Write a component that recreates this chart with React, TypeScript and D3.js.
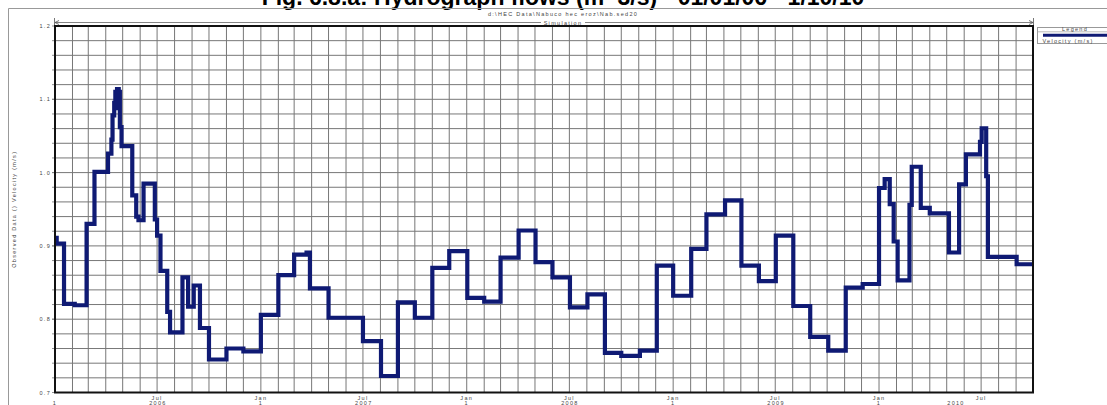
import React from "react";
import * as d3 from "d3";

// ---- data (step series: value holds from each date until the next) ----
const stepDates: string[] = [
  "2006-01-01", "2006-01-04", "2006-01-17", "2006-02-05", "2006-02-26", "2006-03-12",
  "2006-04-05", "2006-04-11", "2006-04-13", "2006-04-16", "2006-04-18", "2006-04-20",
  "2006-04-21", "2006-04-24", "2006-04-26", "2006-04-29", "2006-05-18", "2006-05-25",
  "2006-05-29", "2006-06-07", "2006-06-27", "2006-07-01", "2006-07-07", "2006-07-19",
  "2006-07-24", "2006-08-15", "2006-08-25", "2006-09-04", "2006-09-15", "2006-10-01",
  "2006-11-01", "2006-12-01", "2007-01-01", "2007-02-01", "2007-03-01", "2007-03-23",
  "2007-03-29", "2007-05-01", "2007-07-01", "2007-08-02", "2007-09-01", "2007-10-01",
  "2007-11-01", "2007-12-01", "2008-01-02", "2008-02-01", "2008-03-01", "2008-04-02",
  "2008-05-02", "2008-06-01", "2008-07-02", "2008-08-02", "2008-09-02", "2008-10-01",
  "2008-11-03", "2008-12-03", "2009-01-01", "2009-02-02", "2009-03-01", "2009-04-03",
  "2009-05-02", "2009-06-02", "2009-07-02", "2009-08-02", "2009-09-01", "2009-10-03",
  "2009-11-03", "2009-12-03", "2010-01-01", "2010-01-11", "2010-01-20", "2010-01-27",
  "2010-02-03", "2010-02-24", "2010-02-28", "2010-03-16", "2010-04-01", "2010-05-05",
  "2010-05-23", "2010-06-04", "2010-06-29", "2010-07-02", "2010-07-10", "2010-07-13",
  "2010-09-02", "2010-10-01",
];
const stepValues: number[] = [
  0.911, 0.903, 0.821, 0.819, 0.930, 1.001,
  1.026, 1.045, 1.078, 1.095, 1.110, 1.088,
  1.114, 1.110, 1.062, 1.036, 0.969, 0.940,
  0.935, 0.985, 0.936, 0.914, 0.866, 0.810,
  0.782, 0.857, 0.817, 0.846, 0.788, 0.745,
  0.760, 0.756, 0.806, 0.860, 0.888, 0.891,
  0.842, 0.802, 0.770, 0.7225, 0.823, 0.802,
  0.870, 0.893, 0.829, 0.824, 0.884, 0.921,
  0.878, 0.857, 0.816, 0.834, 0.754, 0.750,
  0.757, 0.873, 0.832, 0.896, 0.943, 0.962,
  0.873, 0.852, 0.914, 0.818, 0.776, 0.757,
  0.843, 0.848, 0.979, 0.991, 0.957, 0.906,
  0.853, 0.956, 1.008, 0.952, 0.9445, 0.891,
  0.984, 1.025, 1.042, 1.0605, 0.995, 0.885,
  0.875, 0.875,
];

const yTickValues: number[] = [0.7, 0.8, 0.9, 1.0, 1.1, 1.2];
const yTickLabels: string[] = ["0.7", "0.8", "0.9", "1.0", "1.1", "1.2"];
const titleText = "Fig. 6.8.a: Hydrograph flows (m^3/s) - 01/01/06 - 1/10/10";
const fileText = "d:\\HEC Data\\Nabuco hec  eroz\\Nab.sed20";
const groupText = "Simulation";
const yAxisTitle = "Observed Data () Velocity (m/s)";
const legendTitle = "Legend";
const seriesName = "Velocity (m/s)";
const domainStart = "2006-01-01";
const domainEnd = "2010-10-01";

const W = 1107;
const H = 405;
const L = 55;
const R = 1033;
const T = 26;
const B = 392.5;
const LINE = "#0f1a74";
const FONT = "'Liberation Sans', Arial, sans-serif";

const parse = (s: string) => new Date(s + "T00:00:00Z");

export default function App() {
  const x = d3.scaleUtc().domain([parse(domainStart), parse(domainEnd)]).range([L, R]);
  const y = d3.scaleLinear().domain([0.7, 1.2]).range([B, T]);

  const pts: [Date, number][] = stepDates.map((d, i) => [parse(d), stepValues[i]]);
  const line = d3
    .line<[Date, number]>()
    .x((d) => x(d[0]))
    .y((d) => y(d[1]))
    .curve(d3.curveStepAfter);

  const months = d3.utcMonth.range(parse(domainStart), parse(domainEnd));
  const hLines = d3.range(36).map((i) => +(0.7 + i * 0.02).toFixed(2)).filter((v) => v > 0.7 && v < 1.2);

  const jans = months.filter((m) => m.getUTCMonth() === 0);
  const juls = months.filter((m) => m.getUTCMonth() === 6);
  const years = d3.range(2006, 2011).map((yr) => {
    const a = Math.max(+parse(`${yr}-01-01`), +parse(domainStart));
    const b = Math.min(+parse(`${yr + 1}-01-01`), +parse(domainEnd));
    return { yr, cx: (x(new Date(a)) + x(new Date(b))) / 2 };
  });

  const tiny = { fontFamily: FONT, fontSize: 5.5, letterSpacing: 1.3, fill: "#444" } as const;

  return (
    <svg
      width={W}
      height={H}
      style={{ position: "absolute", left: 0, top: 0, background: "#fff" }}
    >
      <rect x={0} y={0} width={W} height={H} fill="#fff" />
      {/* title (cut at the top, as in the source image) */}
      <text x={563} y={4.5} textAnchor="middle" fontFamily={FONT} fontWeight="bold" fontSize={23} fill="#000">
        {titleText}
      </text>
      {/* outer frame */}
      <path d={`M8.5,${H} V8.5 H${W}`} fill="none" stroke="#999" strokeWidth={1} />
      {/* file name and group line */}
      <text x={563} y={16} textAnchor="middle" {...tiny}>
        {fileText}
      </text>
      <line x1={L} x2={R} y1={22.5} y2={22.5} stroke="#666" strokeWidth={0.8} />
      <path d={`M${L - 0.5},18 V25 M${L + 4},20.5 L${L},22.5 L${L + 4},24.5`} fill="none" stroke="#555" strokeWidth={0.8} />
      <path d={`M${R + 0.5},18 V25 M${R - 4},20.5 L${R},22.5 L${R - 4},24.5`} fill="none" stroke="#555" strokeWidth={0.8} />
      <rect x={541} y={19.5} width={44} height={6} fill="#fff" />
      <text x={563} y={24.5} textAnchor="middle" {...tiny}>
        {groupText}
      </text>

      {/* grid */}
      {months.map((m, i) => (
        <line key={"v" + i} x1={x(m)} x2={x(m)} y1={T} y2={B} stroke="#777" strokeWidth={1} />
      ))}
      {hLines.map((v, i) => (
        <line key={"h" + i} x1={L} x2={R} y1={y(v)} y2={y(v)} stroke="#777" strokeWidth={1} />
      ))}

      {/* y ticks and labels */}
      {hLines.concat(yTickValues).map((v, i) => (
        <line key={"yt" + i} x1={L - 3} x2={L} y1={y(v)} y2={y(v)} stroke="#777" strokeWidth={0.8} />
      ))}
      {yTickValues.map((v, i) => (
        <text key={"yl" + i} x={51} y={y(v) + 2} textAnchor="end" {...tiny}>
          {yTickLabels[i]}
        </text>
      ))}
      <text
        transform={`translate(16,${(T + B) / 2}) rotate(-90)`}
        textAnchor="middle"
        {...tiny}
      >
        {yAxisTitle}
      </text>

      {/* x labels */}
      {juls.map((m, i) => (
        <text key={"jl" + i} x={x(m)} y={399.5} textAnchor="middle" {...tiny}>
          Jul
        </text>
      ))}
      {jans.map((m, i) => (
        <g key={"jn" + i}>
          {+m !== +parse(domainStart) && (
            <text x={x(m)} y={399.5} textAnchor="middle" {...tiny}>
              Jan
            </text>
          )}
          <text x={x(m)} y={404.5} textAnchor="middle" {...tiny}>
            1
          </text>
        </g>
      ))}
      {years.map((yy) => (
        <text key={"yr" + yy.yr} x={yy.cx} y={404.5} textAnchor="middle" {...tiny}>
          {String(yy.yr)}
        </text>
      ))}

      {/* data */}
      <defs>
        <clipPath id="plotClip">
          <rect x={L} y={T} width={R - L} height={B - T} />
        </clipPath>
      </defs>
      <path d={line(pts) || ""} fill="none" stroke={LINE} strokeWidth={4.2} strokeLinejoin="miter" clipPath="url(#plotClip)" />

      {/* plot frame */}
      <rect x={L} y={T} width={R - L} height={B - T} fill="none" stroke="#111" strokeWidth={2} />

      {/* legend */}
      <rect x={1037.5} y={27.5} width={80} height={16} fill="#fff" stroke="#999" strokeWidth={1} />
      <line x1={1037.5} x2={W} y1={31.8} y2={31.8} stroke="#aaa" strokeWidth={0.8} />
      <text x={1075} y={31} textAnchor="middle" {...tiny}>
        {legendTitle}
      </text>
      <line x1={1043} x2={W} y1={35.3} y2={35.3} stroke={LINE} strokeWidth={3} />
      <text x={1068} y={42.5} textAnchor="middle" {...tiny}>
        {seriesName}
      </text>
    </svg>
  );
}
